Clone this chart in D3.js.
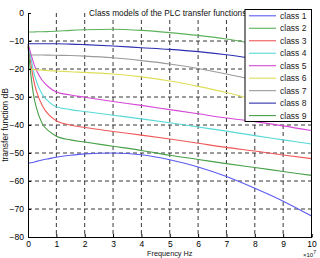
<!DOCTYPE html>
<html><head><meta charset="utf-8">
<script src="https://cdn.jsdelivr.net/npm/d3@7"></script>
<style>html,body{margin:0;padding:0;background:#fff;overflow:hidden}svg{display:block;font-family:"Liberation Sans",Arial,sans-serif}</style>
</head><body><svg id="c" width="320" height="258"></svg>
<script>
const freqs = [0, 0.1, 0.2, 0.3, 0.5, 0.75, 1, 1.5, 2, 3, 4, 5, 6, 7, 8, 9, 10];
const classNames = ["class 1","class 2","class 3","class 4","class 5","class 6","class 7","class 8","class 9"];
const class1 = [-53.8,-53.5,-53.3,-53,-52.5,-52,-51.5,-50.8,-50.3,-50,-50.6,-52.4,-55,-58.4,-62.6,-67.2,-72.5];
const class2 = [-6.8,-6.8,-6.8,-6.7,-6.7,-6.6,-6.5,-6.2,-6,-5.8,-6.2,-7,-8,-9.3,-11,-12.7,-14.5];
const class3 = [-11.5,-18,-24,-28,-33,-36.5,-38.5,-40,-40.9,-42.3,-43.6,-45,-46.5,-48,-49.3,-50.7,-52];
const class4 = [-11,-16,-21,-24.5,-29,-31.8,-33.5,-34.5,-35.2,-36.5,-37.8,-39.2,-40.7,-42.2,-43.8,-45.3,-46.8];
const class5 = [-11,-14.5,-18,-20.5,-24,-26.6,-28.2,-29.3,-30.1,-31.6,-33,-34.5,-36,-37.5,-38.8,-40.3,-42];
const class6 = [-20,-20.1,-20.2,-20.3,-20.4,-20.6,-20.7,-21,-21.2,-21.8,-22.8,-24.3,-26.2,-28.4,-31,-33.8,-36.5];
const class7 = [-15,-15,-15,-15,-15,-15.05,-15.1,-15.2,-15.4,-16,-17,-18.2,-19.8,-21.8,-24,-26.5,-29];
const class8 = [-11,-11,-11,-11,-11,-11,-11,-11.1,-11.3,-11.8,-12.4,-13,-13.8,-14.9,-16.3,-17.8,-19.5];
const class9 = [-12,-22,-29.5,-34,-39.5,-42.3,-44,-45.3,-46.1,-47.6,-49.1,-50.8,-52.3,-53.8,-55.2,-56.6,-58];
const seriesValues = [class1,class2,class3,class4,class5,class6,class7,class8,class9];
const colors = ["#5a5af0","#5cb25c","#f05858","#58d8d8","#d448d4","#dede5a","#9a9a9a","#2e2eb0","#48a048"];
const xTicks = [0,1,2,3,4,5,6,7,8,9,10];
const yTicks = [0,-10,-20,-30,-40,-50,-60,-70,-80];
const titleText = "Class models of the PLC transfer functions";
const xLabel = "Frequency Hz";
const yLabel = "transfer function dB";

const svg = d3.select("#c");
const L = 28, R = 311.5, T = 13, B = 237;
const x = d3.scaleLinear().domain([0,10]).range([L,R]);
const y = d3.scaleLinear().domain([-80,0]).range([B,T]);

// grid
const g = svg.append("g");
g.selectAll("line.gx").data(xTicks.slice(1,-1)).join("line")
  .attr("x1",d=>x(d)).attr("x2",d=>x(d)).attr("y1",T).attr("y2",B)
  .attr("stroke","#222").attr("stroke-width",0.9).attr("stroke-dasharray","4,3");
g.selectAll("line.gy").data(yTicks.slice(1,-1)).join("line")
  .attr("x1",L).attr("x2",R).attr("y1",d=>y(d)).attr("y2",d=>y(d))
  .attr("stroke","#222").attr("stroke-width",0.9).attr("stroke-dasharray","4,3");

// curves
const line = d3.line().x((d,i)=>x(freqs[i])).y(d=>y(d)).curve(d3.curveMonotoneX);
seriesValues.forEach((vals,k)=>{
  svg.append("path").attr("d",line(vals)).attr("fill","none")
    .attr("stroke",colors[k]).attr("stroke-width",1.1);
});

// axes
const ax = svg.append("g").attr("transform",`translate(0,${B})`)
  .call(d3.axisBottom(x).tickValues(xTicks).tickSize(-3).tickPadding(4.3).tickFormat(d3.format("d")));
const ay = svg.append("g").attr("transform",`translate(${L},0)`)
  .call(d3.axisLeft(y).tickValues(yTicks).tickSize(-3).tickPadding(4).tickFormat(d3.format("d")));
[ax,ay].forEach(a=>{
  a.select(".domain").attr("stroke","#000").attr("stroke-width",1);
  a.selectAll("text").attr("font-size","8.5px").attr("fill","#000").attr("font-family","Liberation Sans, Arial, sans-serif");
});
ax.selectAll("text").attr("dy","0.71em");
svg.append("line").attr("x1",R).attr("x2",R).attr("y1",T).attr("y2",B).attr("stroke","#000");

// title & labels
const titleBg = svg.append("rect").attr("fill","#fff");
const title = svg.append("text").attr("x",(L+R)/2 - 2).attr("y",15.5).attr("text-anchor","middle")
  .attr("font-size","8.3px").attr("fill","#111").text(titleText);
const tb = title.node().getBBox();
titleBg.attr("x",tb.x-2).attr("y",0).attr("width",tb.width+4).attr("height",tb.y+tb.height+0.5);
svg.append("text").attr("x",(L+R)/2).attr("y",256.3).attr("text-anchor","middle")
  .attr("font-size","7.3px").attr("fill","#111").text(xLabel);
svg.append("text").attr("transform",`translate(7.5,${(T+B)/2}) rotate(-90)`).attr("text-anchor","middle")
  .attr("font-size","8.5px").attr("fill","#111").text(yLabel);
const ex = svg.append("text").attr("x",303).attr("y",257.3).attr("font-size","6px").attr("fill","#111");
ex.append("tspan").text("×10");
ex.append("tspan").attr("dy",-3.5).attr("font-size","5px").text("7");

// legend
const lg = svg.append("g");
const lx0 = 245, ly0 = 9.5, lw = 66.5, lh = 112;
lg.append("rect").attr("x",lx0).attr("y",ly0).attr("width",lw).attr("height",lh)
  .attr("fill","#fff").attr("stroke","#000").attr("stroke-width",1);
const ly = d3.scaleLinear().domain([0,8]).range([15.8,115.6]);
classNames.forEach((n,k)=>{
  lg.append("line").attr("x1",249).attr("x2",276).attr("y1",ly(k)).attr("y2",ly(k))
    .attr("stroke",colors[k]).attr("stroke-width",1.1);
  lg.append("text").attr("x",280).attr("y",ly(k)+3).attr("font-size","8.5px").attr("fill","#222").text(n);
});
</script></body></html>
